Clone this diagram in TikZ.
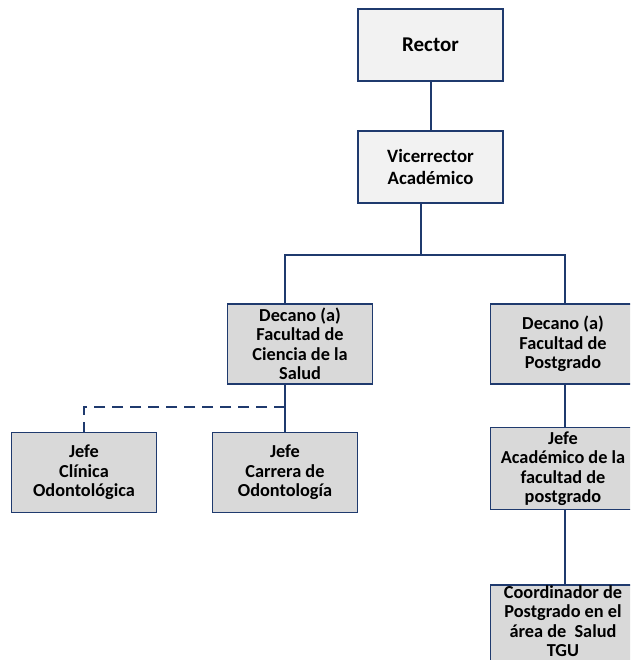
\documentclass[tikz,border=0pt]{standalone}
\usepackage{fontspec}
\setmainfont{Carlito}
\definecolor{navy}{HTML}{1F3A6E}
\definecolor{boxlo}{HTML}{D9D9D9}
\definecolor{boxhi}{HTML}{F2F2F2}
\begin{document}
\begin{tikzpicture}[x=1pt,y=-1pt,
  base/.style={draw=navy,rectangle,align=center,inner sep=1pt,
    font=\fontsize{18.3}{19.5}\selectfont\bfseries},
  topbox/.style={base,fill=boxhi,line width=2.8pt,minimum width=145pt,minimum height=72pt},
  lowbox/.style={base,fill=boxlo,line width=1.8pt,minimum width=145pt,minimum height=80pt},
  conn/.style={draw=navy,line width=2pt},
  dconn/.style={draw=navy,line width=2pt,dash pattern=on 11pt off 7pt}]
\clip (0,0) rectangle (630,660);
\fill[white] (0,0) rectangle (630,660);
\node[topbox,font=\fontsize{21}{24}\selectfont\bfseries] (rector) at (430.5,45) {Rector};
\node[topbox,font=\fontsize{18.8}{21.7}\selectfont\bfseries] (vice) at (430.5,167) {Vicerrector\\Académico};
\node[lowbox] (decS) at (300,344) {Decano (a)\\Facultad de\\Ciencia de la\\Salud};
\node[lowbox] (decP) at (563,344) {Decano (a)\\Facultad de\\Postgrado};
\node[lowbox] (clin) at (84,472.5) {Jefe\\Clínica\\Odontológica};
\node[lowbox] (carr) at (285,472.5) {Jefe\\Carrera de\\Odontología};
\node[lowbox,minimum height=82pt] (jefA) at (563,468.5) {Jefe\\Académico de la\\facultad de\\postgrado};
\node[lowbox,minimum height=100pt,anchor=north] (coord) at (563,584) {};
\node[base,draw=none] (coordtxt) at (563,621) {Coordinador de\\Postgrado en el\\área de \ Salud\\TGU};
\coordinate (b1) at (421,255);
\coordinate (sx) at (285,255);
\coordinate (px) at (565,255);
\coordinate (dj) at (285,407);
\draw[conn] (rector.south) -- (vice.north);
\draw[conn] (b1 |- vice.south) -- (b1);
\draw[conn] (sx |- decS.north) -- (sx) -- (px) -- (px |- decP.north);
\draw[conn] (dj |- decS.south) -- (dj |- carr.north);
\draw[dconn] (dj) -| (clin.north);
\draw[conn] (px |- decP.south) -- (px |- jefA.north);
\draw[conn] (px |- jefA.south) -- (px |- coord.north);
\end{tikzpicture}
\end{document}
